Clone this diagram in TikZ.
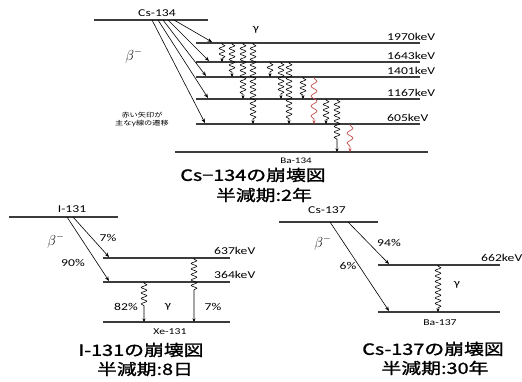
\documentclass[tikz,border=0pt]{standalone}
\usepackage{fontspec}
\setmainfont[FakeStretch=1.3]{Carlito}
\newfontfamily\jp[FakeStretch=1.3]{Noto Sans CJK JP}
\newfontfamily\jpb[FakeStretch=1.28,FakeBold=1.3]{Noto Sans CJK JP}
\usetikzlibrary{arrows.meta,decorations.pathmorphing}
\definecolor{lvl}{RGB}{60,60,60}
\definecolor{redg}{RGB}{192,80,77}
\tikzset{
 lev/.style={draw=lvl, line width=1.1pt},
 beta/.style={draw=black, line width=0.6pt, -{Stealth[length=4.5pt,width=3.5pt]}},
 gam/.style={draw=black, line width=0.6pt, decorate, decoration={snake, amplitude=2.8pt, segment length=5.5pt, pre length=1pt, post length=3pt}, -{Stealth[length=3.5pt,width=3pt]}},
 rgam/.style={draw=redg, line width=0.7pt, decorate, decoration={snake, amplitude=3pt, segment length=10pt, pre length=1pt, post length=3pt}, -{Stealth[length=3.5pt,width=3pt]}},
 lab/.style={font=\fontsize{10.5}{12}\selectfont, inner sep=0pt},
 betalab/.style={font=\fontsize{14}{16}\selectfont, inner sep=0pt},
 ttl/.style={font=\jpb\fontsize{15.5}{18}\selectfont, inner sep=0pt},
 note/.style={font=\jp\fontsize{6.3}{8}\selectfont, inner sep=0pt, align=center},
}
\begin{document}
\begin{tikzpicture}[x=1pt,y=-1pt]
\useasboundingbox (0,0) rectangle (522,381);
% ================= Cs-134 =================
\draw[lev] (94,20) -- (208,20);
\node[lab] (cs134) at (157,13) {Cs-134};
\node[betalab] (b1) at (134,56) {$\beta^{-}$};
\draw[lev] (196,43) -- (420,43);
\draw[lev] (196,62) -- (420,62);
\draw[lev] (196,77) -- (420,77);
\draw[lev] (196,99) -- (420,99);
\draw[lev] (196,124) -- (420,124);
\draw[lev] (175,152) -- (428,152);
\node[lab, anchor=base west] (k1970) at (387,40) {1970keV};
\node[lab, anchor=base west] (k1643) at (387,59) {1643keV};
\node[lab, anchor=base west] (k1401) at (387,74) {1401keV};
\node[lab, anchor=base west] (k1167) at (387,96) {1167keV};
\node[lab, anchor=base west] (k605) at (387,121) {605keV};
\node[lab, font=\fontsize{8.5}{10}\selectfont] (ba134) at (296,161) {Ba-134};
\node[lab] (g1) at (256,30) {γ};
\node[note] (n1) at (142,119) {赤い矢印が\\主なγ線の遷移};
% beta arrows
\draw[beta] (174,20) -- (212,42);
\draw[beta] (168,20) -- (209,61);
\draw[beta] (163,20) -- (206,76);
\draw[beta] (158,20) -- (208,98);
\draw[beta] (152,20) -- (205,123);
% gammas
\draw[gam] (222,43) -- (222,62);
\draw[gam] (232,43) -- (232,77);
\draw[gam] (243,43) -- (243,99);
\draw[gam] (253,43) -- (253,124);
\draw[gam] (270,62) -- (270,77);
\draw[gam] (281,62) -- (281,99);
\draw[gam] (289,62) -- (289,124);
\draw[gam] (303,77) -- (303,99);
\draw[rgam] (314,77) -- (314,124);
\draw[gam] (326,99) -- (326,124);
\draw[gam, decoration={post length=12pt}] (337,99) -- (337,152);
\draw[rgam] (350,124) -- (350,152);
\node[ttl] (t1) at (253,175) {Cs−134の崩壊図};
\node[ttl] (t2) at (264,195) {半減期:2年};
% ================= I-131 =================
\draw[lev] (9,217) -- (118,217);
\node[lab] (i131) at (72,209) {I-131};
\node[betalab] (b2) at (56,241) {$\beta^{-}$};
\draw[lev] (103,258) -- (230,258);
\draw[lev] (103,282) -- (230,282);
\draw[lev] (103,322) -- (230,322);
\node[lab, anchor=base west] (k637) at (214,254) {637keV};
\node[lab, anchor=base west] (k364) at (214,278) {364keV};
\node[lab] (p7a) at (108,238) {7\%};
\node[lab] (p90) at (73,263) {90\%};
\node[lab] (p82) at (126,307) {82\%};
\node[lab] (g2) at (168,307) {γ};
\node[lab] (p7b) at (213,307) {7\%};
\node[lab, font=\fontsize{9}{10}\selectfont] (xe131) at (170,332) {Xe-131};
\draw[beta] (73,217) -- (109,257);
\draw[beta] (67,217) -- (109,281);
\draw[gam, decoration={post length=30pt}] (194,258) -- (194,322);
\draw[gam, decoration={post length=15pt}] (144,282) -- (144,322);
\node[ttl] (t3) at (141,350) {I-131の崩壊図};
\node[ttl] (t4) at (145,369) {半減期:8日};
% ================= Cs-137 =================
\draw[lev] (279,222) -- (378,222);
\node[lab] (cs137) at (327,210) {Cs-137};
\node[betalab] (b3) at (323,243) {$\beta^{-}$};
\draw[lev] (378,265) -- (500,265);
\draw[lev] (378,312) -- (500,312);
\node[lab, anchor=base west] (k662) at (481,261) {662keV};
\node[lab] (p94) at (389,243) {94\%};
\node[lab] (p6) at (348,266) {6\%};
\node[lab] (g3) at (457,285) {γ};
\node[lab, font=\fontsize{9}{10}\selectfont] (ba137) at (440,323) {Ba-137};
\draw[beta] (348,222) -- (389,264);
\draw[beta] (330,222) -- (389,311);
\draw[gam, decoration={post length=4pt}] (438,265) -- (438,312);
\node[ttl] (t5) at (433,349) {Cs-137の崩壊図};
\node[ttl] (t6) at (435,368) {半減期:30年};
\end{tikzpicture}
\end{document}
